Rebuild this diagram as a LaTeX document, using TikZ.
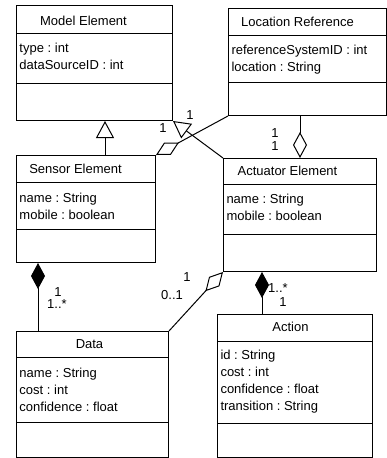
\documentclass[tikz,border=0pt]{standalone}
\usepackage{fontspec}
\setmainfont{Liberation Sans}
\usetikzlibrary{arrows.meta}
\frenchspacing

\begin{document}
\begin{tikzpicture}[x=1pt,y=-1pt,line width=1pt,
  classbox/.style={draw,anchor=north west,inner sep=0pt},
  title/.style={anchor=base,inner sep=0pt,font=\fontsize{13}{17}\selectfont},
  attrs/.style={anchor=north west,inner sep=0pt,align=left,font=\fontsize{13}{17}\selectfont},
  mult/.style={inner sep=0pt,font=\fontsize{13}{13}\selectfont},
  gen/.style={-{Triangle[open,width=18pt,length=17pt]}},
  aggr/.style={-{Diamond[open,width=14pt,length=26pt]}},
  comp/.style={-{Diamond[width=14pt,length=26pt]}}]
  \useasboundingbox (0,0) rectangle (387,458);

  % classes
  \node[classbox,minimum width=156,minimum height=115] (model) at (16,5) {};
  \draw (model.west |- 0,33) -- (model.east |- 0,33);
  \draw (model.west |- 0,83) -- (model.east |- 0,83);
  \node[title] (modelname) at (83.5,25) {Model Element};
  \node[attrs] (modelattr) at (19,42.6) {type : int\\dataSourceID : int};

  \node[classbox,minimum width=158,minimum height=107] (locref) at (228,8) {};
  \draw (locref.west |- 0,35) -- (locref.east |- 0,35);
  \draw (locref.west |- 0,82) -- (locref.east |- 0,82);
  \node[title] (locrefname) at (297.5,26) {Location Reference};
  \node[attrs] (locrefattr) at (231,44.6) {referenceSystemID : int\\location : String};

  \node[classbox,minimum width=139,minimum height=107] (sensor) at (16,155) {};
  \draw (sensor.west |- 0,182) -- (sensor.east |- 0,182);
  \draw (sensor.west |- 0,229) -- (sensor.east |- 0,229);
  \node[title] (sensorname) at (75.5,173) {Sensor Element};
  \node[attrs] (sensorattr) at (19,192.6) {name : String\\mobile : boolean};

  \node[classbox,minimum width=153,minimum height=113] (actuator) at (223,158) {};
  \draw (actuator.west |- 0,184) -- (actuator.east |- 0,184);
  \draw (actuator.west |- 0,234) -- (actuator.east |- 0,234);
  \node[title] (actuatorname) at (287.5,175) {Actuator Element};
  \node[attrs] (actuatorattr) at (226,193.6) {name : String\\mobile : boolean};

  \node[classbox,minimum width=152,minimum height=125.5] (data) at (16,331) {};
  \draw (data.west |- 0,357) -- (data.east |- 0,357);
  \draw (data.west |- 0,422) -- (data.east |- 0,422);
  \node[title] (dataname) at (89.5,348) {Data};
  \node[attrs] (dataattr) at (19,367.6) {name : String\\cost : int\\confidence : float};

  \node[classbox,minimum width=155,minimum height=142.5] (action) at (217,314) {};
  \draw (action.west |- 0,341) -- (action.east |- 0,341);
  \draw (action.west |- 0,423) -- (action.east |- 0,423);
  \node[title] (actionname) at (290.5,331) {Action};
  \node[attrs] (actionattr) at (220,349.6) {id : String\\cost : int\\confidence : float\\transition : String};

  % relations
  \coordinate (g1) at (105,0);
  \coordinate (c1) at (38,0);
  \coordinate (c2) at (262,0);
  \draw[gen] (g1 |- sensor.north) -- (g1 |- model.south);
  \draw[gen] (actuator.north west) -- (model.south east);
  \draw[aggr] (locref.south west) -- (sensor.north east);
  \draw[aggr] (actuator.north |- locref.south) -- (actuator.north);
  \draw[comp] (c1 |- data.north) -- (c1 |- sensor.south);
  \draw[comp] (c2 |- action.north) -- (c2 |- actuator.south);
  \draw[aggr] (data.north east) -- (actuator.south west);

  % multiplicities
  \node[mult] (m1) at (190,115) {1};
  \node[mult] (m2) at (163,128) {1};
  \node[mult] (m3) at (275,133) {1};
  \node[mult] (m4) at (275,146) {1};
  \node[mult] (m5) at (58,292) {1};
  \node[mult] (m6) at (57,304) {1..*};
  \node[mult] (m7) at (187,277) {1};
  \node[mult] (m8) at (172,295) {0..1};
  \node[mult] (m9) at (278,288) {1..*};
  \node[mult] (m10) at (283,302) {1};
\end{tikzpicture}
\end{document}
